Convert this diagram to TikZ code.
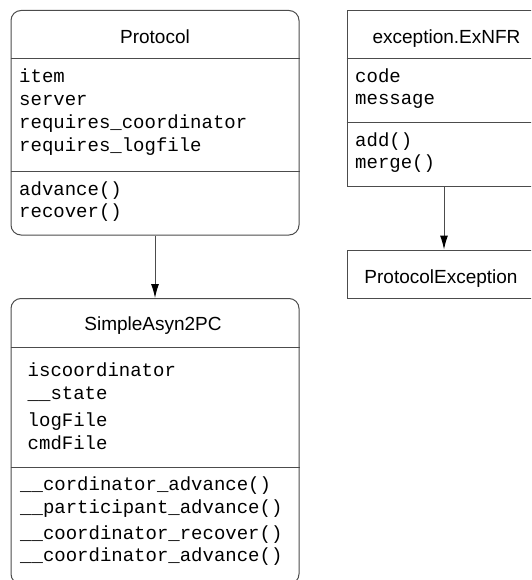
\documentclass[tikz,border=0pt]{standalone}
\usepackage{fontspec}
\setmainfont{Liberation Sans}
\setmonofont{Liberation Mono}
\usetikzlibrary{arrows.meta}
\definecolor{edgegray}{gray}{0.3}
\tikzset{
  classbox/.style={draw=edgegray, line width=1pt, inner sep=0pt},
  classname/.style={anchor=base, inner sep=0pt, font=\fontsize{19}{22}\selectfont},
  member/.style={anchor=base west, inner sep=0pt, font=\ttfamily\fontsize{19}{22}\selectfont},
  divider/.style={draw=edgegray, line width=1pt},
  inherit/.style={draw=edgegray, line width=1pt, -{Latex[length=14pt,width=8pt,color=black]}}
}
\begin{document}
\begin{tikzpicture}[x=1pt, y=-1pt]
        \clip (0,0) rectangle (531,580);
        % Riquadri
        \node (P) at (155,122.75) [classbox, rounded corners=10pt, minimum width=288pt, minimum height=224.5pt] {};
        \node (S) at (155,441.25) [classbox, rounded corners=10pt, minimum width=288pt, minimum height=285.5pt] {};
        \node (X) at (444,98.25) [classbox, minimum width=194pt, minimum height=175.5pt] {};
        \node (E) at (444,274) [classbox, minimum width=194pt, minimum height=48pt] {};

        % Separatori
        \draw[divider] (P.west |- 0,59) -- (P.east |- 0,59);
        \draw[divider] (P.west |- 0,171.5) -- (P.east |- 0,171.5);
        \draw[divider] (S.west |- 0,347) -- (S.east |- 0,347);
        \draw[divider] (S.west |- 0,467) -- (S.east |- 0,467);
        \draw[divider] (X.west |- 0,59) -- (X.east |- 0,59);
        \draw[divider] (X.west |- 0,122.5) -- (X.east |- 0,122.5);

        % Protocol
        \node (Pt) at (155,44) [classname] {Protocol};
        \node (Pa1) at (19,83) [member] {item};
        \node (Pa2) at (19,106) [member] {server};
        \node (Pa3) at (19,129) [member] {requires\_coordinator};
        \node (Pa4) at (19,151.5) [member] {requires\_logfile};
        \node (Pm1) at (19,195) [member] {advance()};
        \node (Pm2) at (19,217) [member] {recover()};

        % SimpleAsyn2PC
        \node (St) at (153,330) [classname] {SimpleAsyn2PC};
        \node (Sa1) at (27.5,376.5) [member] {iscoordinator};
        \node (Sa2) at (27.5,399) [member] {\_\_state};
        \node (Sa3) at (27.5,426.5) [member] {logFile};
        \node (Sa4) at (27.5,449) [member] {cmdFile};
        \node (Sm1) at (20,490.5) [member] {\_\_cordinator\_advance()};
        \node (Sm2) at (20,513) [member] {\_\_participant\_advance()};
        \node (Sm3) at (20,539) [member] {\_\_coordinator\_recover()};
        \node (Sm4) at (20,561.5) [member] {\_\_coordinator\_advance()};

        % exception.ExNFR
        \node (Xt) at (446.5,43.5) [classname] {exception.ExNFR};
        \node (Xa1) at (355,83) [member] {code};
        \node (Xa2) at (355,105) [member] {message};
        \node (Xm1) at (355,146.5) [member] {add()};
        \node (Xm2) at (355,168.5) [member] {merge()};

        % ProtocolException
        \node (Et) at (441,283) [classname] {ProtocolException};

        % Collegamenti
        \draw[inherit] (P) -- (S);
        \draw[inherit] (X) -- (E);
    \end{tikzpicture}
\end{document}
